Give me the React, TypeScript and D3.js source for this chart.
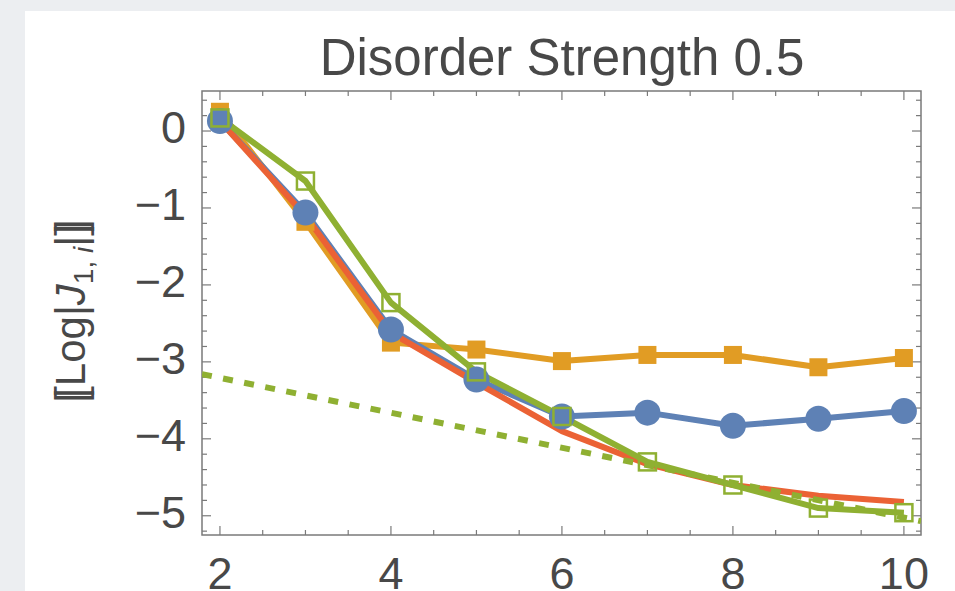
import React from "react";
import * as d3 from "d3";

// Site index i
const sites = [2, 3, 4, 5, 6, 7, 8, 9, 10];

// Averaged log couplings per series
const circleSeries = [0.13, -1.06, -2.58, -3.23, -3.71, -3.66, -3.83, -3.74, -3.64];
const squareSeries = [0.25, -1.18, -2.75, -2.84, -2.99, -2.91, -2.91, -3.07, -2.95];
const openSquareSeries = [0.17, -0.65, -2.23, -3.13, -3.71, -4.3, -4.6, -4.9, -4.96];
const curveSeries = [0.13, -1.1, -2.62, -3.27, -3.9, -4.33, -4.6, -4.74, -4.82];

// Dashed reference line endpoints
const refX = [1.79, 10.2];
const refY = [-3.16, -5.07];

const xTickLabels = [2, 4, 6, 8, 10];
const yTickLabels = [0, -1, -2, -3, -4, -5];

const W = 955;
const H = 591;

const BLUE = "#5E81B5";
const ORANGE = "#E19C24";
const GREEN = "#8FB032";
const RED = "#EB6235";
const TEXT = "#484848";
const FRAME = "#7a7a7a";

export default function App() {
  const left = 202, right = 921, top = 91, bottom = 535;
  const x = d3.scaleLinear().domain([1.79, 10.2]).range([left, right]);
  const y = d3.scaleLinear().domain([0.52, -5.25]).range([top, bottom]);

  const line = d3
    .line<[number, number]>()
    .x((d) => x(d[0]))
    .y((d) => y(d[1]));

  const pts = (vals: number[]) => sites.map((s, i) => [s, vals[i]] as [number, number]);

  const xMinor = d3.range(2, 10.01, 0.5);
  const yMinor = d3.range(-5.2, 0.41, 0.2).map((v) => Math.round(v * 10) / 10);

  const font = "'Liberation Sans', Arial, sans-serif";
  const minus = (v: number) => (v < 0 ? "\u2212" + Math.abs(v) : String(v));

  return (
    <svg
      width={W}
      height={H}
      style={{ position: "absolute", left: 0, top: 0 }}
      fontFamily={font}
    >
      <defs>
        <clipPath id="plotArea">
          <rect x={left} y={top} width={right - left} height={bottom - top} />
        </clipPath>
      </defs>
      <rect x={0} y={0} width={W} height={H} fill="#eceef1" />
      <rect x={25} y={11} width={W - 25} height={H - 11} fill="#ffffff" />

      {/* title */}
      <text x={562} y={75} textAnchor="middle" fontSize={51} fill={TEXT}>
        Disorder Strength 0.5
      </text>

      {/* frame */}
      <rect
        x={left}
        y={top}
        width={right - left}
        height={bottom - top}
        fill="none"
        stroke={FRAME}
        strokeWidth={1.5}
      />

      {/* x ticks, bottom and top */}
      {xMinor.map((v) => {
        const major = xTickLabels.includes(v);
        const len = major ? 9 : 5;
        return (
          <g key={"xt" + v} stroke={FRAME} strokeWidth={1.2}>
            <line x1={x(v)} x2={x(v)} y1={bottom} y2={bottom - len} />
            <line x1={x(v)} x2={x(v)} y1={top} y2={top + len} />
          </g>
        );
      })}
      {/* y ticks, left and right */}
      {yMinor.map((v) => {
        const major = Number.isInteger(v);
        const len = major ? 9 : 5;
        return (
          <g key={"yt" + v} stroke={FRAME} strokeWidth={1.2}>
            <line x1={left} x2={left + len} y1={y(v)} y2={y(v)} />
            <line x1={right} x2={right - len} y1={y(v)} y2={y(v)} />
          </g>
        );
      })}

      {/* tick labels */}
      {xTickLabels.map((v) => (
        <text key={"xl" + v} x={x(v)} y={589} textAnchor="middle" fontSize={45} fill={TEXT}>
          {v}
        </text>
      ))}
      {yTickLabels.map((v) => (
        <text key={"yl" + v} x={186} y={y(v) + 12} textAnchor="end" fontSize={45} fill={TEXT}>
          {minus(v)}
        </text>
      ))}

      {/* y axis label */}
      <text
        transform="translate(85,311) rotate(-90)"
        textAnchor="middle"
        fontSize={42}
        fill={TEXT}
      >
        <tspan>[</tspan>
        <tspan dx={-7}>[</tspan>
        <tspan>Log|</tspan>
        <tspan fontStyle="italic">J</tspan>
        <tspan fontSize={28} dy={8}>1</tspan>
        <tspan fontSize={28}>, </tspan>
        <tspan fontSize={28} fontStyle="italic">i</tspan>
        <tspan dy={-8}>|</tspan>
        <tspan>]</tspan>
        <tspan dx={-7}>]</tspan>
      </text>

      <g clipPath="url(#plotArea)">
        {/* lines */}
        <path d={line(pts(squareSeries)) ?? ""} fill="none" stroke={ORANGE} strokeWidth={6} strokeLinejoin="round" />
        <path d={line(pts(circleSeries)) ?? ""} fill="none" stroke={BLUE} strokeWidth={6} strokeLinejoin="round" />
        <path d={line(pts(curveSeries)) ?? ""} fill="none" stroke={RED} strokeWidth={6} strokeLinejoin="round" />
        <path
          d={line(refX.map((v, i) => [v, refY[i]] as [number, number])) ?? ""}
          fill="none"
          stroke={GREEN}
          strokeWidth={6}
          strokeDasharray="10 11.5"
        />
        <path d={line(pts(openSquareSeries)) ?? ""} fill="none" stroke={GREEN} strokeWidth={6} strokeLinejoin="round" />

        {/* markers */}
        {sites.map((s, i) => (
          <rect
            key={"sq" + s}
            x={x(s) - 9}
            y={y(squareSeries[i]) - 9}
            width={18}
            height={18}
            fill={ORANGE}
          />
        ))}
        {sites.map((s, i) => (
          <circle key={"c" + s} cx={x(s)} cy={y(circleSeries[i])} r={13} fill={BLUE} />
        ))}
        {sites.map((s, i) => (
          <rect
            key={"os" + s}
            x={x(s) - 8.5}
            y={y(openSquareSeries[i]) - 8.5}
            width={17}
            height={17}
            fill="none"
            stroke={GREEN}
            strokeWidth={2.5}
          />
        ))}
      </g>
    </svg>
  );
}
